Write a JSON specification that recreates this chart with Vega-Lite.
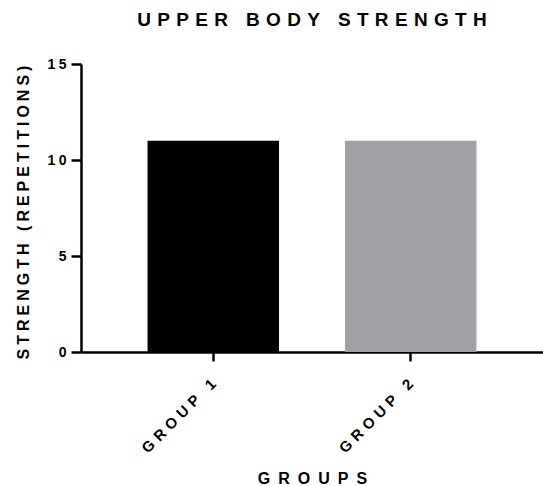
{
  "$schema": "https://vega.github.io/schema/vega-lite/v6.json",
  "width": 462,
  "height": 288,
  "autosize": "none",
  "padding": {"left": 81, "top": 64, "right": 0, "bottom": 134},
  "background": "white",
  "title": {
    "text": "U\u2004P\u2004P\u2004E\u2004R\u2004 \u2004B\u2004O\u2004D\u2004Y\u2004 \u2004S\u2004T\u2004R\u2004E\u2004N\u2004G\u2004T\u2004H",
    "font": "Liberation Sans",
    "fontSize": 19,
    "fontWeight": "bold",
    "color": "#000000",
    "anchor": "middle",
    "offset": 27
  },
  "data": {
    "values": [
      {"group": "GROUP 1", "strength": 11},
      {"group": "GROUP 2", "strength": 11}
    ]
  },
  "mark": {"type": "bar"},
  "encoding": {
    "x": {
      "field": "group",
      "type": "nominal",
      "sort": null,
      "scale": {"paddingInner": 0.334, "paddingOuter": 0.337},
      "axis": {
        "title": "G\u2002R\u2002O\u2002U\u2002P\u2002S",
        "titleFont": "Liberation Sans",
        "titleFontSize": 16,
        "titleFontWeight": "bold",
        "titleColor": "#000000",
        "titleBaseline": "middle",
        "titleY": 126,
        "labelExpr": "join(split(datum.label, ''), '\u2004')",
        "labelFont": "Liberation Sans",
        "labelFontSize": 15,
        "labelFontWeight": "bold",
        "labelColor": "#000000",
        "labelAngle": -45,
        "labelAlign": "right",
        "labelBaseline": "middle",
        "labelPadding": 20,
        "domainColor": "#000000",
        "domainWidth": 2.5,
        "tickColor": "#000000",
        "tickWidth": 2.5,
        "tickSize": 9
      }
    },
    "y": {
      "field": "strength",
      "type": "quantitative",
      "scale": {"domain": [0, 15], "nice": false},
      "axis": {
        "values": [0, 5, 10, 15],
        "grid": false,
        "title": "S\u2005T\u2005R\u2005E\u2005N\u2005G\u2005T\u2005H\u2005 \u2005(\u2005R\u2005E\u2005P\u2005E\u2005T\u2005I\u2005T\u2005I\u2005O\u2005N\u2005S\u2005)",
        "titleFont": "Liberation Sans",
        "titleFontSize": 16,
        "titleFontWeight": "bold",
        "titleColor": "#000000",
        "titleBaseline": "middle",
        "titleAlign": "center",
        "titleAngle": -90,
        "titleX": -58,
        "titleY": 148,
        "labelExpr": "join(split(datum.label, ''), '\u2005')",
        "labelFont": "Liberation Sans",
        "labelFontSize": 14,
        "labelFontWeight": "bold",
        "labelColor": "#000000",
        "labelPadding": 5,
        "domainColor": "#000000",
        "domainWidth": 2.5,
        "tickColor": "#000000",
        "tickWidth": 2.5,
        "tickSize": 10
      }
    },
    "color": {
      "field": "group",
      "type": "nominal",
      "scale": {"range": ["#000000", "#a1a0a5"]},
      "legend": null
    }
  },
  "config": {"view": {"stroke": null}}
}
